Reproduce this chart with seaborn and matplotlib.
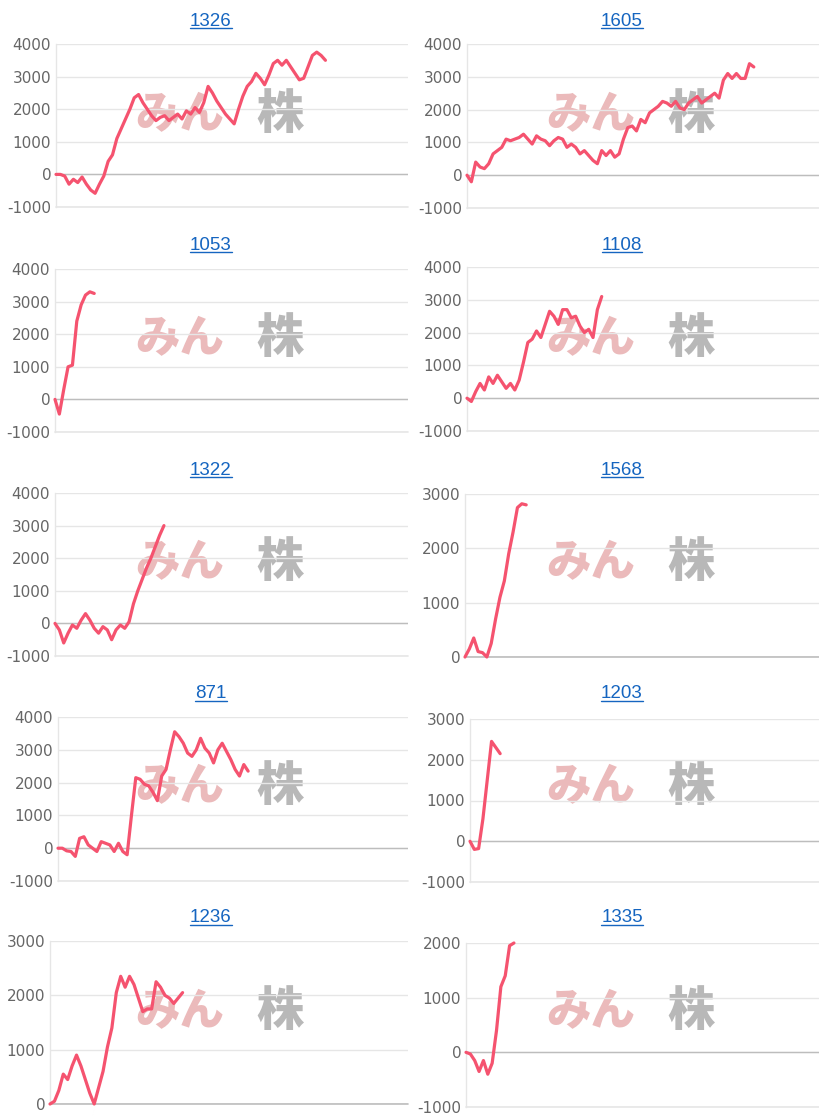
import matplotlib
matplotlib.use('Agg')
import matplotlib.pyplot as plt
import numpy as np
import pandas as pd
import seaborn as sns
from matplotlib.lines import Line2D

# ── Series (cumulative P/L per trade) ───────────────────────────────────────
TITLES = ['1326', '1605', '1053', '1108', '1322', '1568', '871', '1203', '1236', '1335']

s_1326 = [0, 0, -50, -300, -150, -250, -80, -300, -480, -580, -300, -50, 400, 600,
          1100, 1400, 1700, 2000, 2350, 2450, 2200, 2000, 1800, 1650, 1750, 1800,
          1650, 1750, 1850, 1700, 1950, 1850, 2050, 1900, 2200, 2700, 2500, 2250,
          2050, 1850, 1700, 1550, 2000, 2400, 2700, 2850, 3100, 2950, 2750, 3050,
          3400, 3500, 3350, 3500, 3300, 3100, 2900, 2950, 3300, 3650, 3750, 3650, 3500]
s_1605 = [0, -200, 400, 250, 200, 350, 650, 750, 850, 1100, 1050, 1100, 1150, 1250,
          1100, 950, 1200, 1100, 1050, 900, 1050, 1150, 1100, 850, 950, 850, 650,
          750, 600, 450, 350, 750, 600, 750, 550, 650, 1100, 1450, 1500, 1350, 1700,
          1600, 1900, 2000, 2100, 2250, 2200, 2100, 2250, 2050, 2000, 2200, 2300,
          2400, 2200, 2300, 2400, 2500, 2350, 2900, 3100, 2950, 3100, 2950, 2950,
          3400, 3300]
s_1053 = [0, -450, 300, 1000, 1050, 2400, 2900, 3200, 3300, 3250]
s_1108 = [0, -100, 200, 450, 250, 650, 450, 700, 500, 300, 450, 250, 550, 1100, 1700,
          1800, 2050, 1850, 2250, 2650, 2500, 2250, 2700, 2700, 2450, 2500, 2200,
          2000, 2100, 1850, 2700, 3100]
s_1322 = [0, -200, -600, -300, -50, -150, 100, 300, 100, -150, -300, -100, -200,
          -500, -200, -50, -150, 50, 600, 1000, 1350, 1700, 2000, 2350, 2700, 3000]
s_1568 = [0, 150, 350, 100, 80, 0, 250, 700, 1100, 1400, 1900, 2300, 2750, 2820, 2800]
s_871 = [0, 0, -80, -100, -250, 300, 350, 100, 0, -100, 200, 150, 100, -100, 150,
         -100, -200, 1000, 2150, 2100, 1950, 1900, 1700, 1450, 2200, 2400, 3000,
         3550, 3400, 3200, 2900, 2800, 3000, 3350, 3050, 2900, 2600, 3000, 3200,
         2950, 2700, 2400, 2200, 2550, 2350]
s_1203 = [0, -200, -180, 550, 1500, 2450, 2300, 2150]
s_1236 = [0, 50, 250, 550, 450, 700, 900, 700, 450, 200, 0, 300, 600, 1050, 1400,
          2050, 2350, 2150, 2350, 2200, 1950, 1700, 1750, 1750, 2250, 2150, 2000,
          1950, 1850, 1950, 2050]
s_1335 = [0, -30, -150, -350, -150, -400, -200, 400, 1200, 1400, 1950, 2000]

SERIES = [s_1326, s_1605, s_1053, s_1108, s_1322, s_1568, s_871, s_1203, s_1236, s_1335]
Y_RANGES = [(-1000, 4000), (-1000, 4000), (-1000, 4000), (-1000, 4000),
            (-1000, 4000), (0, 3000), (-1000, 4000), (-1000, 3000),
            (0, 3000), (-1000, 2000)]
X_MAX = 81

# ── Layout (pixels in the 819x1120 canvas) ───────────────────────────────────
W, H = 819, 1120
AX_BOXES = [  # left, right, top, bottom
    (56, 408, 44, 207), (467, 819, 44, 208),
    (55, 408, 269, 432), (467, 819, 267, 431),
    (55, 408, 493, 656), (465, 819, 494, 657),
    (58, 408, 717, 881), (470, 819, 719, 882),
    (50, 408, 941, 1104), (466, 819, 943, 1107),
]
TITLE_X = [211, 622]
TITLE_Y = [21, 245, 470, 694, 918]
MARK_X = [232, 643]                   # watermark centre per column
MARK_Y = [115, 339, 563, 787, 1012]   # watermark centre per row

LINE_RED   = '#F5536F'
LINK_BLUE  = '#1565C0'
GRID_LIGHT = '#E6E6E6'
ZERO_GRAY  = '#BDBDBD'
TICK_GRAY  = '#666666'
MARK_PINK  = '#EBBABB'
MARK_GRAY  = '#B8B8B8'

sns.set_theme(style='white')
plt.rcParams['font.family'] = ['DejaVu Sans']
plt.rcParams['axes.unicode_minus'] = False

fig = plt.figure(figsize=(W / 100, H / 100), dpi=100)
fig.patch.set_facecolor('white')

title_texts = []
for i, (name, vals, (y0, y1)) in enumerate(zip(TITLES, SERIES, Y_RANGES)):
    l, r, t, b = AX_BOXES[i]
    ax = fig.add_axes([l / W, 1 - b / H, (r - l) / W, (b - t) / H])
    df = pd.DataFrame({'trade': np.arange(len(vals)), 'pl': vals})

    # watermark (logo) behind the line
    cx = MARK_X[i % 2]
    my = 1 - MARK_Y[i // 2] / H
    ax.text((cx - 8) / W, my, 'みん', transform=fig.transFigure, ha='right',
            va='center', fontsize=32, fontweight='heavy', color=MARK_PINK,
            family=['Noto Sans CJK JP'], zorder=0)
    ax.text((cx + 48) / W, my, '株', transform=fig.transFigure, ha='center',
            va='center', fontsize=34, fontweight='heavy', color=MARK_GRAY,
            family=['Noto Sans CJK JP'], zorder=0)

    sns.lineplot(data=df, x='trade', y='pl', ax=ax, color=LINE_RED,
                 linewidth=2.3, zorder=3, clip_on=False)

    ax.set_xlim(0, X_MAX)
    ax.set_ylim(y0, y1)
    ax.set_yticks(np.arange(y0, y1 + 1, 1000))
    ax.set_xticks([])
    ax.set_xlabel('')
    ax.set_ylabel('')
    ax.yaxis.grid(True, color=GRID_LIGHT, linewidth=1.0)
    ax.set_axisbelow(True)
    ax.axhline(y0, color=ZERO_GRAY if y0 == 0 else GRID_LIGHT, linewidth=1.2,
               zorder=1, clip_on=False)
    ax.axhline(0, color=ZERO_GRAY, linewidth=1.0, zorder=1)
    for side in ['top', 'right', 'bottom']:
        ax.spines[side].set_visible(False)
    ax.spines['left'].set_color(GRID_LIGHT)
    ax.spines['left'].set_linewidth(1.0)
    ax.tick_params(axis='y', length=2.5, width=1.0, color=GRID_LIGHT, pad=1,
                   labelsize=11, labelcolor=TICK_GRAY)

    tx = TITLE_X[i % 2]
    ty = TITLE_Y[i // 2]
    txt = fig.text(tx / W, 1 - ty / H, name, ha='center', va='center',
                   color=LINK_BLUE, fontsize=13.5, family=['Liberation Sans'])
    title_texts.append(txt)

# underline the titles like links
fig.canvas.draw()
renderer = fig.canvas.get_renderer()
for txt in title_texts:
    bb = txt.get_window_extent(renderer)
    y_line = (bb.y0 + 1.5) / H
    fig.add_artist(Line2D([bb.x0 / W, bb.x1 / W], [y_line, y_line],
                          color=LINK_BLUE, linewidth=1.0, transform=fig.transFigure))

fig.savefig('out.png', dpi=100)
